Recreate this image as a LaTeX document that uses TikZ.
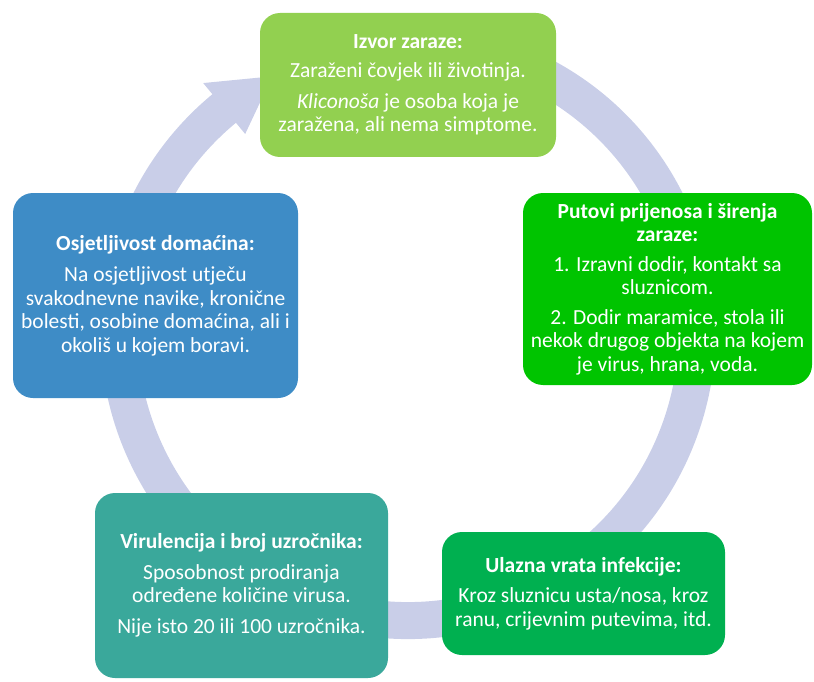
\documentclass[tikz,border=0pt]{standalone}
\usepackage{fontspec}
\setmainfont{Carlito}
\usetikzlibrary{calc}

\definecolor{ringblue}{RGB}{201,206,232}
\definecolor{srcgreen}{RGB}{146,208,80}
\definecolor{pathgreen}{RGB}{0,196,0}
\definecolor{hostblue}{RGB}{62,140,198}
\definecolor{virteal}{RGB}{58,168,155}
\definecolor{gategreen}{RGB}{0,176,80}

\tikzset{
  cyclebox/.style={rounded corners=20pt, align=center, text=white, inner sep=0pt,
    font=\fontsize{21.5}{23.5}\selectfont},
}

\begin{document}
\begin{tikzpicture}[x=1pt,y=1pt]
    \useasboundingbox (0,0) rectangle (814,-682);

    % Ring variables
    \def\ringR{289}     % middle radius of the band
    \def\ringW{37}      % width of the band
    \def\headOut{322}   % outer barb of the arrow head
    \def\headIn{256}    % inner barb of the arrow head

    \coordinate (O) at (408,-331.5);

    % Ring behind the boxes, clockwise, head at the upper left
    \draw[ringblue, line width=\ringW] ($(O)+(70:\ringR)$) arc[start angle=70, end angle=-231, radius=\ringR];
    \fill[ringblue] ($(O)+(129.5:\headOut)$) -- ($(O)+(118:\ringR)$) -- ($(O)+(129.5:\headIn)$) -- cycle;

    % Top box
    \node[cyclebox, fill=srcgreen, minimum width=296, minimum height=144] (source) at (408,-85)
        {\textbf{Izvor zaraze:}\\[6pt]
         Zaraženi čovjek ili životinja.\\[7pt]
         \textit{Kliconoša} je osoba koja je\\
         zaražena, ali nema simptome.};

    % Right box
    \node[cyclebox, fill=pathgreen, minimum width=289, minimum height=192] (paths) at (667.5,-289)
        {\textbf{Putovi prijenosa i širenja}\\
         \textbf{zaraze:}\\[6pt]
         1. Izravni dodir, kontakt sa\\
         sluznicom.\\[6pt]
         2. Dodir maramice, stola ili\\
         nekok drugog objekta na kojem\\
         je virus, hrana, voda.};

    % Bottom right box
    \node[cyclebox, fill=gategreen, minimum width=283, minimum height=123] (gate) at (583.5,-593.5)
        {\textbf{Ulazna vrata infekcije:}\\[7pt]
         Kroz sluznicu usta/nosa, kroz\\
         ranu, crijevnim putevima, itd.};

    % Bottom left box
    \node[cyclebox, fill=virteal, minimum width=293, minimum height=185] (virulence) at (241.5,-585.5)
        {\textbf{Virulencija i broj uzročnika:}\\[7pt]
         Sposobnost prodiranja\\
         određene količine virusa.\\[7pt]
         Nije isto 20 ili 100 uzročnika.};

    % Left box
    \node[cyclebox, fill=hostblue, minimum width=285, minimum height=205] (host) at (155.5,-295.5)
        {\textbf{Osjetljivost domaćina:}\\[8pt]
         Na osjetljivost utječu\\
         svakodnevne navike, kronične\\
         bolesti, osobine domaćina, ali i\\
         okoliš u kojem boravi.};

\end{tikzpicture}
\end{document}
